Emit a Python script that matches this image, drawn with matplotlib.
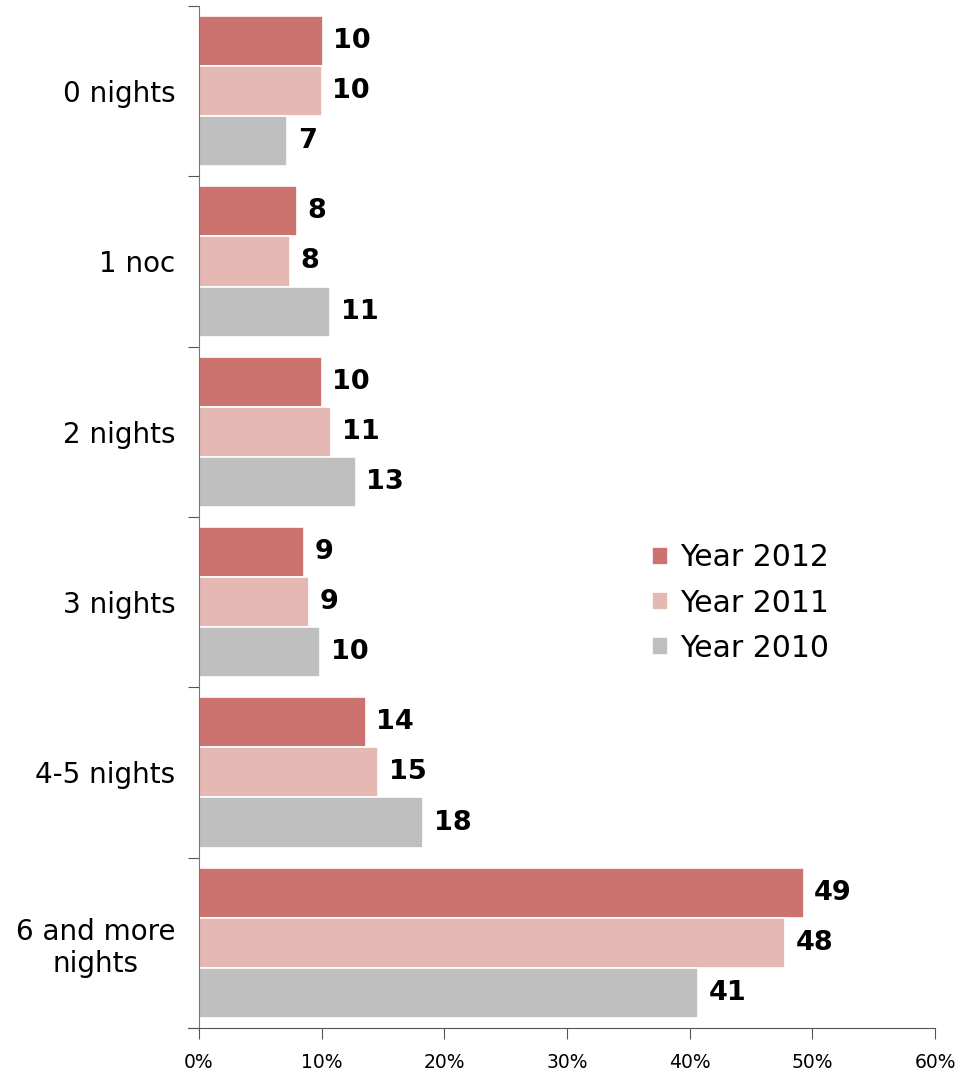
import matplotlib.pyplot as plt
import numpy as np

categories = ["0 nights", "1 noc", "2 nights", "3 nights", "4-5 nights", "6 and more\nnights"]
series_names = ["Year 2012", "Year 2011", "Year 2010"]
year2012 = [10.1, 8.0, 10.0, 8.6, 13.6, 49.3]
year2011 = [10.0, 7.4, 10.8, 9.0, 14.6, 47.8]
year2010 = [7.2, 10.7, 12.8, 9.9, 18.3, 40.7]
labels2012 = ["10", "8", "10", "9", "14", "49"]
labels2011 = ["10", "8", "11", "9", "15", "48"]
labels2010 = ["7", "11", "13", "10", "18", "41"]
colors = ["#CC7370", "#E6B8B3", "#BFBFBF"]
xticks = [0, 10, 20, 30, 40, 50, 60]

fig = plt.figure(figsize=(9.59, 10.73), dpi=100)
ax = fig.add_axes([0.2075, 0.042, 0.7675, 0.9524])

y = np.arange(len(categories))
h = 0.294
allSeries = [year2012, year2011, year2010]
allLabels = [labels2012, labels2011, labels2010]
for i, vals in enumerate(allSeries):
    offs = (i - 1) * h
    bars = ax.barh(y + offs, vals, height=h, color=colors[i], edgecolor="white",
                   linewidth=1.2, label=series_names[i])
    for b, lab in zip(bars, allLabels[i]):
        ax.annotate(lab, (b.get_width(), b.get_y() + b.get_height() / 2),
                    xytext=(7.5, 0), textcoords="offset points", va="center", ha="left",
                    fontsize=19.5, fontweight="bold", color="black")

ax.set_xlim(0, 60)
ax.set_ylim(len(categories) - 0.5, -0.5)
ax.set_xticks(xticks)
ax.set_xticklabels([f"{t}%" for t in xticks], fontsize=13.5)

# category boundaries get the tick marks, labels sit at centers
ax.set_yticks(np.arange(len(categories) + 1) - 0.5)
ax.set_yticklabels([])
ax.set_yticks(y, minor=True)
ax.set_yticklabels(categories, minor=True, fontsize=20, ha="right", multialignment="center")
ax.tick_params(axis="y", which="minor", length=0, pad=17)
ax.tick_params(axis="y", which="major", length=8, color="#555555")
ax.tick_params(axis="x", length=8, color="#555555", pad=10)

for s in ["top", "right"]:
    ax.spines[s].set_visible(False)
ax.spines["left"].set_color("#777777")
ax.spines["bottom"].set_color("#555555")
ax.spines["bottom"].set_bounds(-0.9, 60)

ax.legend(loc="center left", bbox_to_anchor=(637 / 959, 1 - 603 / 1073),
          bbox_transform=fig.transFigure, frameon=False, fontsize=21.5, borderpad=0,
          handlelength=0.55, handleheight=0.55, handletextpad=0.4, labelspacing=0.55)

plt.savefig("out.png", dpi=100)
